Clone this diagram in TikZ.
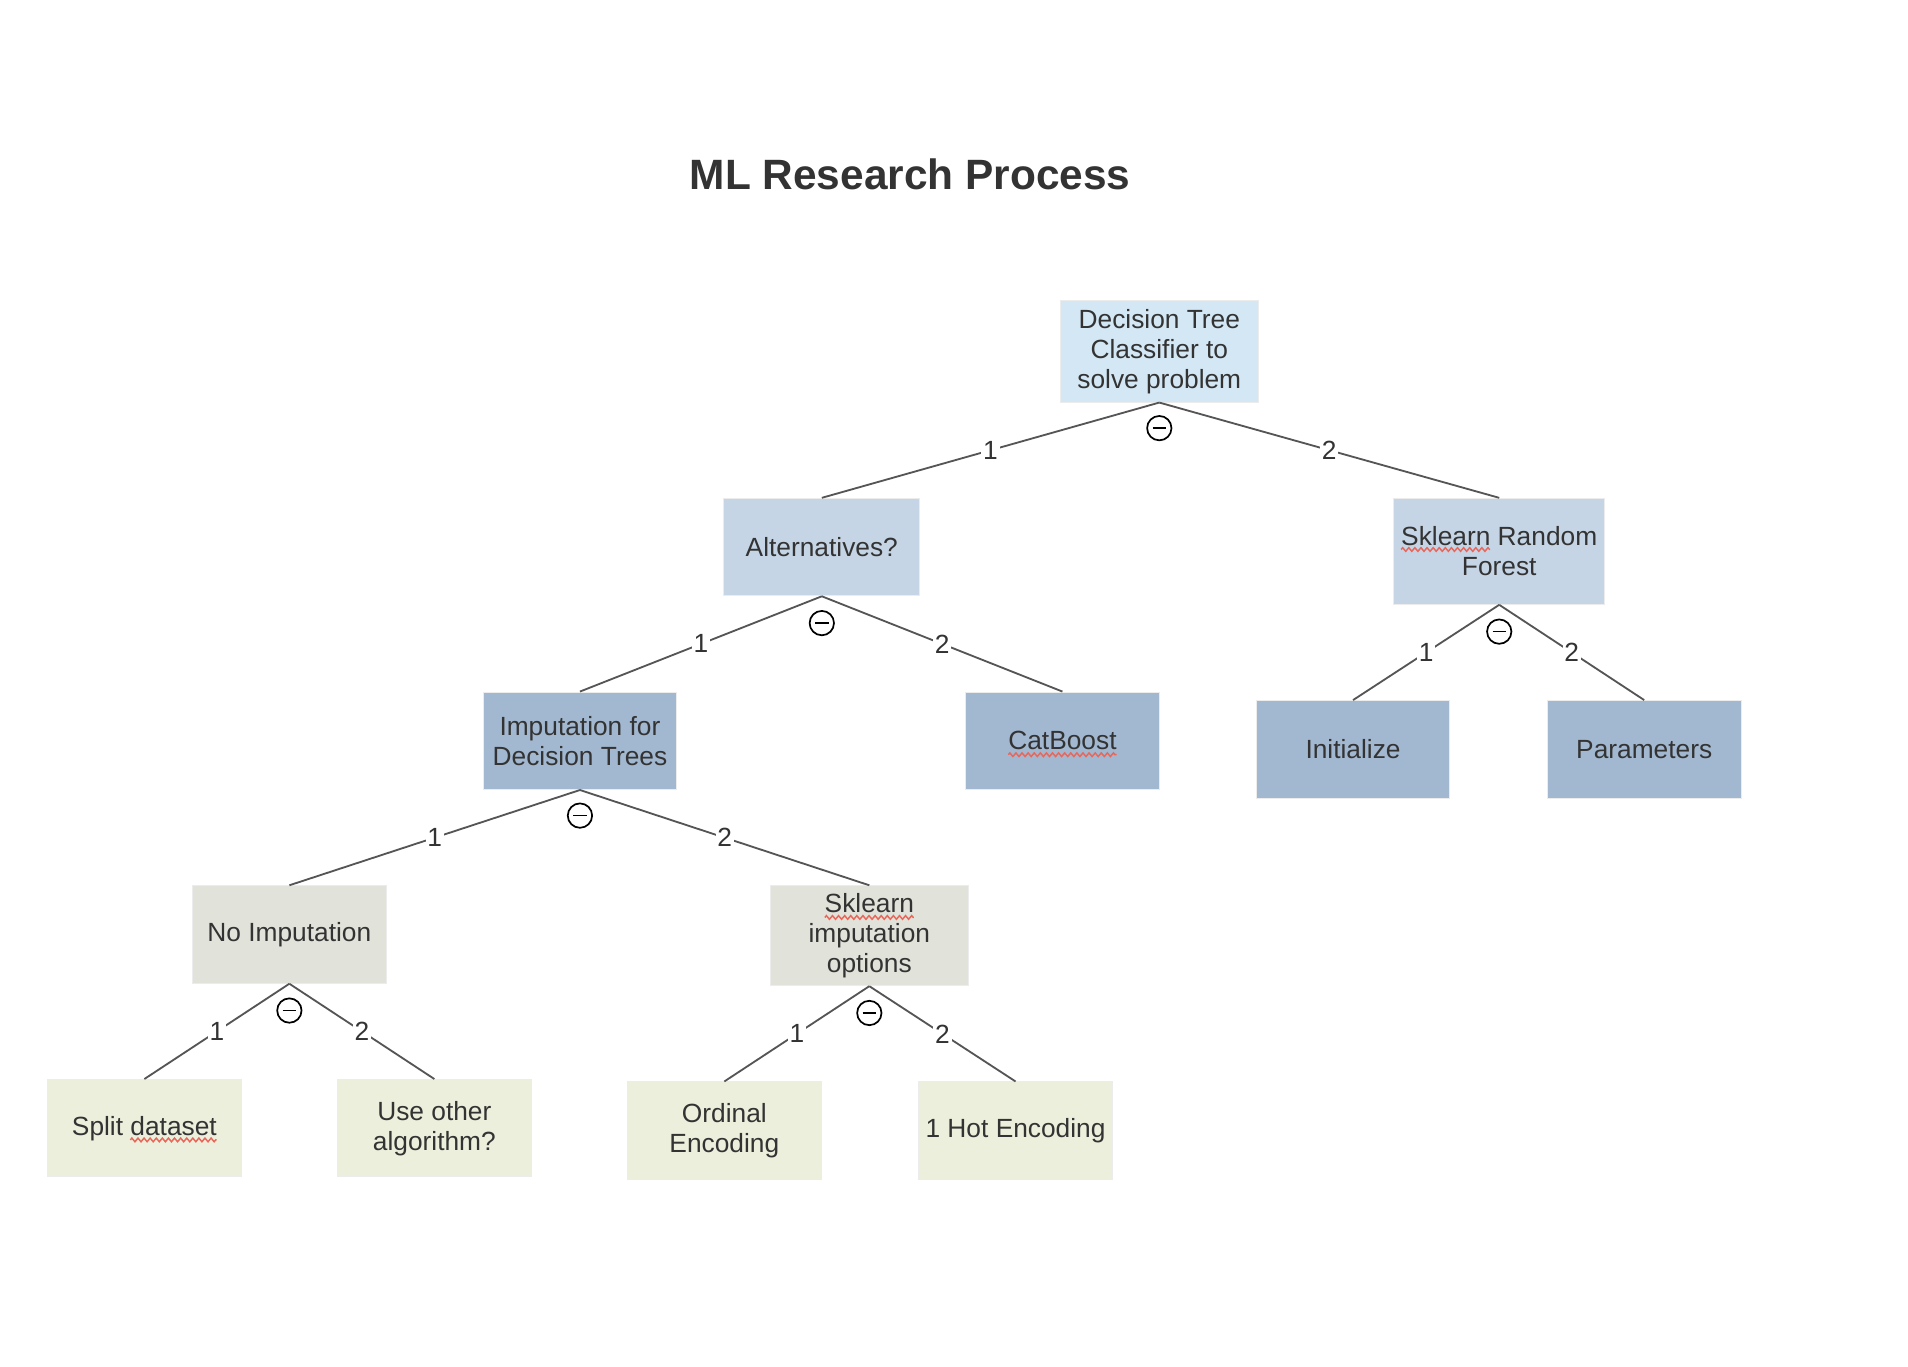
\documentclass[tikz,border=0pt]{standalone}
\usepackage{fontspec}
\setmainfont{Liberation Sans}
\usetikzlibrary{calc,decorations.pathmorphing}
\definecolor{txt}{HTML}{333333}
\definecolor{edgec}{HTML}{555555}
\definecolor{lvA}{HTML}{D4E7F4}
\definecolor{lvB}{HTML}{C5D5E5}
\definecolor{lvC}{HTML}{A2B8D0}
\definecolor{lvD}{HTML}{E1E2D9}
\definecolor{lvE}{HTML}{ECEFDB}
\definecolor{squig}{HTML}{E8675A}
\tikzset{
  box/.style={rectangle, draw=white!85!gray, line width=0.8pt, text=txt, align=center,
    inner sep=0pt, font=\fontsize{21.6pt}{24.6pt}\selectfont},
  sz/.style 2 args={minimum width=#1, minimum height=#2},
  edge/.style={draw=edgec, line width=1.5pt},
  lbl/.style={fill=white, text=txt, inner sep=1.5pt, font=\fontsize{21.6pt}{24pt}\selectfont},
  minus/.style={circle, draw=black, line width=1.4pt, minimum size=20pt, inner sep=0pt,
    path picture={\draw[line width=1.4pt] ($(path picture bounding box.center)+(-5.5pt,0)$) -- ($(path picture bounding box.center)+(5.5pt,0)$);}},
  spell/.style={draw=squig, line width=1.2pt, decorate, decoration={zigzag, amplitude=1.5pt, segment length=5pt}}
}
\begin{document}
\begin{tikzpicture}[x=1pt,y=-1pt]
\useasboundingbox (0,0) rectangle (1566,1121.5);

\node[text=txt, font=\fontsize{34.8pt}{40pt}\selectfont\bfseries] (title) at (747,143) {ML Research Process};

\node[box, fill=lvA, sz={163}{83}] (root) at (951.5,288.5) {Decision Tree\\Classifier to\\solve problem};
\node[box, fill=lvB, sz={161}{80}] (alt) at (674.5,449) {Alternatives?};
\node[box, fill=lvB, sz={173}{87}] (srf) at (1230.5,452.5) {Sklearn Random\\Forest};
\node[box, fill=lvC, sz={158}{80}] (imp) at (476,608) {Imputation for\\Decision Trees};
\node[box, fill=lvC, sz={159}{80}] (cat) at (872,608) {CatBoost};
\node[box, fill=lvC, sz={159}{80}] (ini) at (1110.5,615) {Initialize};
\node[box, fill=lvC, sz={159}{80}] (par) at (1349.5,615) {Parameters};
\node[box, fill=lvD, sz={159}{80}] (noimp) at (237.5,767) {No Imputation};
\node[box, fill=lvD, sz={163}{82}] (skimp) at (713.5,768) {Sklearn\\imputation\\options};
\node[box, fill=lvE, sz={159}{80}] (split) at (118.5,926) {Split dataset};
\node[box, fill=lvE, sz={159}{80}] (other) at (356.5,926) {Use other\\algorithm?};
\node[box, fill=lvE, sz={159}{80}] (ord) at (594.5,928) {Ordinal\\Encoding};
\node[box, fill=lvE, sz={159}{80}] (hot) at (833.5,928) {1 Hot Encoding};

\draw[edge] (root.south) -- node[lbl]{1} (alt.north);
\draw[edge] (root.south) -- node[lbl]{2} (srf.north);
\draw[edge] (alt.south) -- node[lbl]{1} (imp.north);
\draw[edge] (alt.south) -- node[lbl]{2} (cat.north);
\draw[edge] (srf.south) -- node[lbl]{1} (ini.north);
\draw[edge] (srf.south) -- node[lbl]{2} (par.north);
\draw[edge] (imp.south) -- node[lbl]{1} (noimp.north);
\draw[edge] (imp.south) -- node[lbl]{2} (skimp.north);
\draw[edge] (noimp.south) -- node[lbl]{1} (split.north);
\draw[edge] (noimp.south) -- node[lbl]{2} (other.north);
\draw[edge] (skimp.south) -- node[lbl]{1} (ord.north);
\draw[edge] (skimp.south) -- node[lbl]{2} (hot.north);

\node[minus] (m1) at ($(root.south)+(0,21)$) {};
\node[minus] (m2) at ($(alt.south)+(0,22)$) {};
\node[minus] (m3) at ($(srf.south)+(0,22)$) {};
\node[minus] (m4) at ($(imp.south)+(0,21)$) {};
\node[minus] (m5) at ($(noimp.south)+(0,22)$) {};
\node[minus] (m6) at ($(skimp.south)+(0,22)$) {};

\draw[spell] (1150,451) -- (1223,451);
\draw[spell] (677,753) -- (750,753);
\draw[spell] ($(cat.base)+(-44.4,4)$) -- ($(cat.base)+(44.4,4)$);
\draw[spell] ($(split.base)+(-11.5,4)$) -- ($(split.base)+(59.3,4)$);
\end{tikzpicture}
\end{document}
